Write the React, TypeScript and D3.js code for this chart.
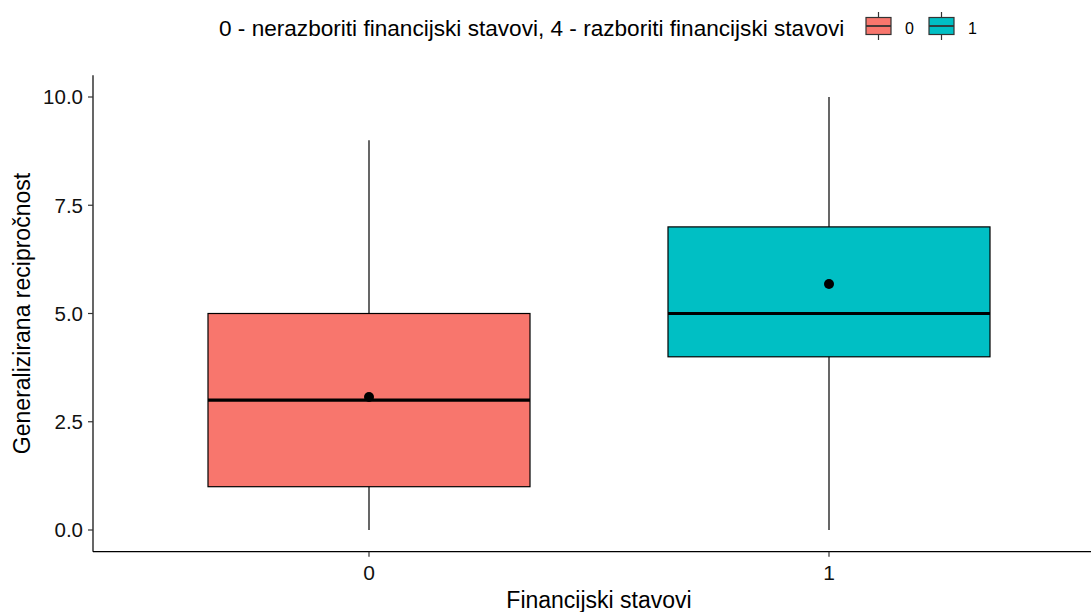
import React from "react";
import * as d3 from "d3";

const categories = ["0", "1"];
const whiskerLow = [0, 0];
const q1 = [1, 4];
const medians = [3, 5];
const q3 = [5, 7];
const whiskerHigh = [9, 10];
const means = [3.07, 5.68];
const colors = ["#F8766D", "#00BFC4"];
const yTicks = [0, 2.5, 5, 7.5, 10];
const legendTitle = "0 - nerazboriti financijski stavovi, 4 - razboriti financijski stavovi";
const xTitle = "Financijski stavovi";
const yTitle = "Generalizirana recipročnost";

const W = 1091, H = 612;
const left = 93, right = 1105, top = 75.35, bottom = 551.65;

export default function App() {
  const x = d3.scalePoint<string>().domain(categories).range([left, right]).padding(0.6);
  const step = x.step();
  const bw = step * 0.7;
  const y = d3.scaleLinear().domain([-0.5, 10.5]).range([bottom, top]);
  const font = "'Liberation Sans', Arial, sans-serif";

  return (
    <svg width={W} height={H} style={{ position: "absolute", left: 0, top: 0, background: "#fff" }} fontFamily={font}>
      {/* legend */}
      <text x={219} y={36} fontSize={22.6} fill="#000">{legendTitle}</text>
      {categories.map((c, i) => {
        const kx = 866 + i * 63;
        return (
          <g key={c}>
            <line x1={kx + 12.5} x2={kx + 12.5} y1={12} y2={40} stroke="#333" strokeWidth={1.2} />
            <rect x={kx} y={17.5} width={25} height={17} fill={colors[i]} stroke="#333" strokeWidth={1.2} />
            <line x1={kx} x2={kx + 25} y1={26} y2={26} stroke="#333" strokeWidth={1.8} />
            <text x={kx + 39} y={33.5} fontSize={16} fill="#000">{c}</text>
          </g>
        );
      })}
      {/* boxes */}
      {categories.map((c, i) => {
        const cx = x(c)!;
        return (
          <g key={c}>
            <line x1={cx} x2={cx} y1={y(whiskerHigh[i])} y2={y(q3[i])} stroke="#000" strokeWidth={1.2} />
            <line x1={cx} x2={cx} y1={y(q1[i])} y2={y(whiskerLow[i])} stroke="#000" strokeWidth={1.2} />
            <rect x={cx - bw / 2} y={y(q3[i])} width={bw} height={y(q1[i]) - y(q3[i])} fill={colors[i]} stroke="#000" strokeWidth={1.2} />
            <line x1={cx - bw / 2} x2={cx + bw / 2} y1={y(medians[i])} y2={y(medians[i])} stroke="#000" strokeWidth={3.2} />
            <circle cx={cx} cy={y(means[i])} r={5} fill="#000" />
          </g>
        );
      })}
      {/* axes */}
      <line x1={left} x2={left} y1={top} y2={bottom} stroke="#000" strokeWidth={1.2} />
      <line x1={left} x2={W} y1={bottom} y2={bottom} stroke="#000" strokeWidth={1.2} />
      {yTicks.map((t) => (
        <g key={t}>
          <line x1={left - 5} x2={left} y1={y(t)} y2={y(t)} stroke="#333" strokeWidth={1.2} />
          <text x={left - 10} y={y(t)} dy="0.36em" textAnchor="end" fontSize={20.5} fill="#111">{t.toFixed(1)}</text>
        </g>
      ))}
      {categories.map((c) => (
        <g key={c}>
          <line x1={x(c)!} x2={x(c)!} y1={bottom} y2={bottom + 5} stroke="#333" strokeWidth={1.2} />
          <text x={x(c)!} y={580} textAnchor="middle" fontSize={21} fill="#111">{c}</text>
        </g>
      ))}
      <text x={(left + right) / 2} y={608} textAnchor="middle" fontSize={23} fill="#000">{xTitle}</text>
      <text transform={`translate(30, ${(top + bottom) / 2}) rotate(-90)`} textAnchor="middle" fontSize={23} fill="#000">{yTitle}</text>
    </svg>
  );
}
